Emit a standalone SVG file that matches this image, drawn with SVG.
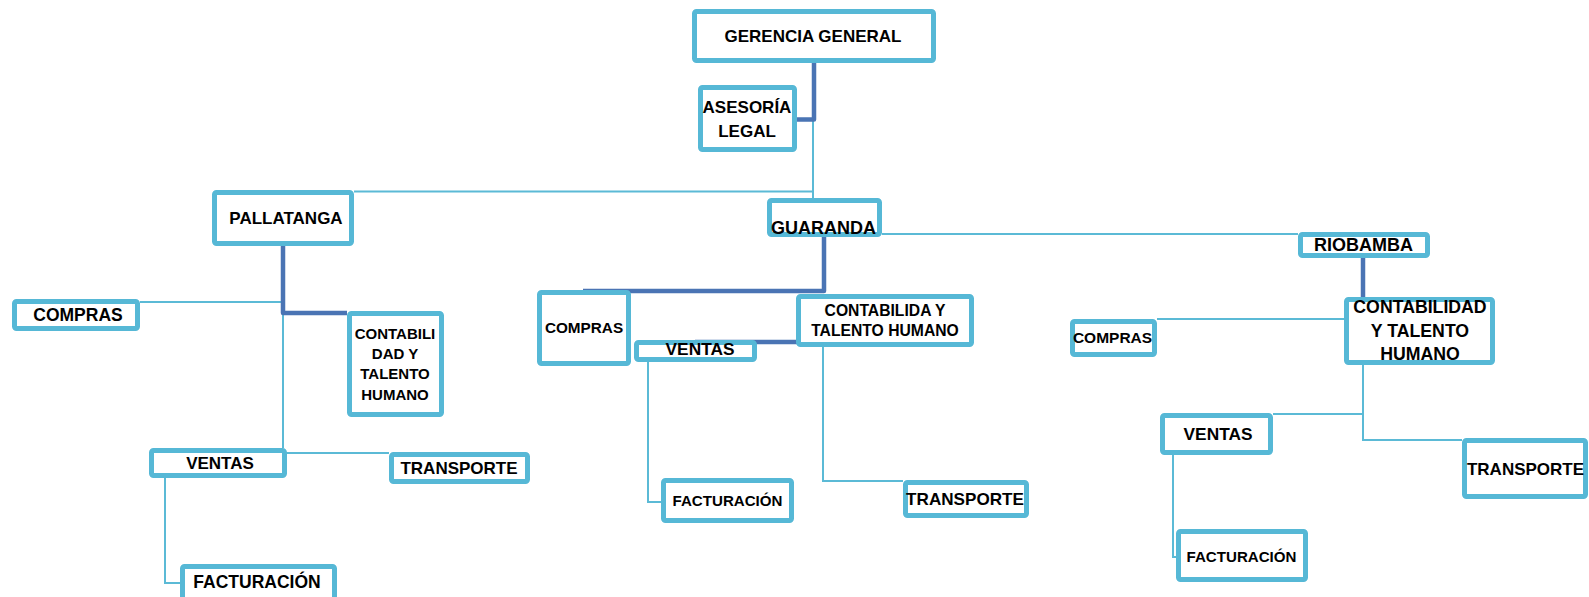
<svg xmlns="http://www.w3.org/2000/svg" width="1589" height="597" viewBox="0 0 1589 597">
<style>
.box{fill:#ffffff;stroke:#56B8D6;stroke-width:5;}
.t{font-family:"Liberation Sans",Arial,sans-serif;font-weight:bold;fill:#000000;text-anchor:middle;}
.dk{fill:none;stroke:#4A74B4;stroke-width:4.5;stroke-linejoin:round;}
.lt{fill:none;stroke:#5BBAD6;stroke-width:2;}
</style>
<rect width="1589" height="597" fill="#ffffff"/>
<g id="connectors">
<path class="lt" d="M813,119 V198"/>
<path class="lt" d="M354,191.5 H813"/>
<path class="dk" d="M814,63 V119.5 H797"/>
<path class="lt" d="M283,313 V448"/>
<path class="lt" d="M140,302 H283"/>
<path class="dk" d="M283,246 V313 H347"/>
<path class="lt" d="M287,453 H389"/>
<path class="lt" d="M165,478 V583 H180"/>
<path class="dk" d="M824,237 V291 H583"/>
<path class="lt" d="M882,234 H1298"/>
<path class="dk" d="M695,342 H797"/>
<path class="lt" d="M648,362 V502 H661"/>
<path class="lt" d="M823,347 V481 H903"/>
<path class="dk" d="M1363,258 V297"/>
<path class="lt" d="M1157,319 H1344"/>
<path class="lt" d="M1363,365 V440 H1462"/>
<path class="lt" d="M1363,414 H1273"/>
<path class="lt" d="M1173,455 V557 H1177"/>
</g>
<g id="gerencia"><rect class="box" x="694.5" y="11.5" width="239" height="49" rx="2"/><text class="t" x="813" y="42" font-size="17">GERENCIA GENERAL</text></g>
<g id="asesoria"><rect class="box" x="700.5" y="87.5" width="94" height="62" rx="2"/><text class="t" x="747" y="113" font-size="17">ASESORÍA</text><text class="t" x="747" y="137" font-size="17">LEGAL</text></g>
<g id="pallatanga"><rect class="box" x="214.5" y="192.5" width="137" height="51" rx="2"/><text class="t" x="286" y="224" font-size="17">PALLATANGA</text></g>
<g id="p-contabilidad"><rect class="box" x="349.5" y="313.5" width="92" height="101" rx="2"/><text class="t" x="395" y="339" font-size="15">CONTABILI</text><text class="t" x="395" y="359" font-size="15">DAD Y</text><text class="t" x="395" y="379" font-size="15">TALENTO</text><text class="t" x="395" y="400" font-size="15">HUMANO</text></g>
<g id="p-compras"><rect class="box" x="14.5" y="301.5" width="123" height="27" rx="2"/><text class="t" x="78" y="321" font-size="17.5">COMPRAS</text></g>
<g id="p-ventas"><rect class="box" x="151.5" y="450.5" width="133" height="25" rx="2"/><text class="t" x="220" y="469" font-size="17">VENTAS</text></g>
<g id="p-transporte"><rect class="box" x="391.5" y="454.5" width="136" height="27" rx="2"/><text class="t" x="459" y="474" font-size="17">TRANSPORTE</text></g>
<g id="p-facturacion"><rect class="box" x="182.5" y="566.5" width="152" height="36" rx="2"/><text class="t" x="257" y="588" font-size="17.5">FACTURACIÓN</text></g>
<g id="guaranda"><rect class="box" x="769.5" y="200.5" width="110" height="34" rx="2"/><text class="t" x="823.5" y="234" font-size="18">GUARANDA</text></g>
<g id="g-compras"><rect class="box" x="539.5" y="292.5" width="89" height="71" rx="2"/><text class="t" x="584" y="333" font-size="15.3">COMPRAS</text></g>
<g id="g-contabilidad"><rect class="box" x="798.5" y="296.5" width="173" height="48" rx="2"/><text class="t" x="885" y="316" font-size="15.7">CONTABILIDA Y</text><text class="t" x="885" y="336" font-size="15.7">TALENTO HUMANO</text></g>
<g id="g-ventas"><rect class="box" x="636.5" y="342.5" width="118" height="17" rx="2"/><text class="t" x="700" y="355" font-size="17.3">VENTAS</text></g>
<g id="g-facturacion"><rect class="box" x="663.5" y="480.5" width="128" height="40" rx="2"/><text class="t" x="727.5" y="506" font-size="15.1">FACTURACIÓN</text></g>
<g id="g-transporte"><rect class="box" x="905.5" y="482.5" width="121" height="33" rx="2"/><text class="t" x="965" y="505" font-size="17.1">TRANSPORTE</text></g>
<g id="riobamba"><rect class="box" x="1300.5" y="234.5" width="127" height="21" rx="2"/><text class="t" x="1363.5" y="251" font-size="18">RIOBAMBA</text></g>
<g id="r-contabilidad"><rect class="box" x="1346.5" y="299.5" width="146" height="63" rx="2"/><text class="t" x="1420" y="313" font-size="17.7">CONTABILIDAD</text><text class="t" x="1420" y="337" font-size="17.7">Y TALENTO</text><text class="t" x="1420" y="360" font-size="17.7">HUMANO</text></g>
<g id="r-compras"><rect class="box" x="1072.5" y="321.5" width="82" height="33" rx="2"/><text class="t" x="1112.5" y="343" font-size="15.5">COMPRAS</text></g>
<g id="r-ventas"><rect class="box" x="1162.5" y="415.5" width="108" height="37" rx="2"/><text class="t" x="1218" y="440" font-size="17.3">VENTAS</text></g>
<g id="r-transporte"><rect class="box" x="1464.5" y="440.5" width="121" height="56" rx="2"/><text class="t" x="1525.5" y="475" font-size="17">TRANSPORTE</text></g>
<g id="r-facturacion"><rect class="box" x="1178.5" y="531.5" width="127" height="48" rx="2"/><text class="t" x="1241.5" y="562" font-size="15.1">FACTURACIÓN</text></g>
</svg>
